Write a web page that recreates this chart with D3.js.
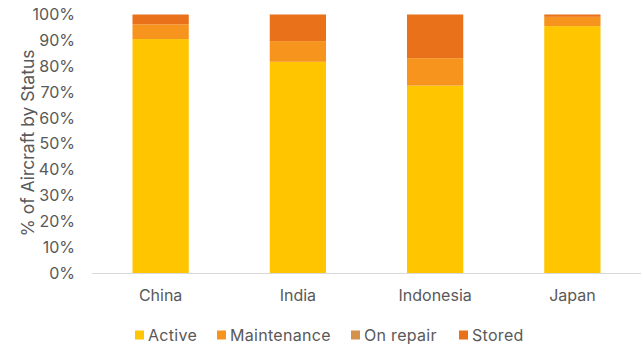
<!DOCTYPE html>
<html><head><meta charset="utf-8">
<script src="https://cdn.jsdelivr.net/npm/d3@7/dist/d3.min.js"></script>
<style>body{margin:0;background:#fff}svg{display:block}text{font-family:Inter,"Liberation Sans",Arial,sans-serif;}</style>
</head><body><svg id="c" width="643" height="347"></svg>
<script>
const categories = ["China","India","Indonesia","Japan"];
const seriesNames = ["Active","Maintenance","On repair","Stored"];
const active = [90.5, 81.7, 72.5, 95.5];
const maintenance = [5.7, 8.0, 10.6, 3.6];
const onRepair = [0, 0, 0, 0];
const stored = [3.8, 10.3, 16.9, 0.9];
const yTicks = [0,10,20,30,40,50,60,70,80,90,100];
const colors = ["#FFC600","#F7941D","#D4924A","#E8711A"];

const FONT = "Inter,'Liberation Sans',Arial,sans-serif";
const svg = d3.select("#c");
const m = {l:92, r:2, t:14.5, b:74};
const W = 643, H = 347;
const x = d3.scaleBand().domain(categories).range([m.l, W-m.r]).paddingInner(0.59).paddingOuter(0.295);
const y = d3.scaleLinear().domain([0,100]).range([H-m.b, m.t]);

const rows = categories.map((c,i)=>({cat:c, "Active":active[i], "Maintenance":maintenance[i], "On repair":onRepair[i], "Stored":stored[i]}));
const stack = d3.stack().keys(seriesNames)(rows);

svg.append("g").selectAll("g").data(stack).join("g").attr("fill",(d,i)=>colors[i])
  .selectAll("rect").data(d=>d).join("rect")
  .attr("x",d=>x(d.data.cat)).attr("width",x.bandwidth())
  .attr("y",d=>y(d[1])).attr("height",d=>Math.max(0,y(d[0])-y(d[1])));

svg.append("line").attr("x1",m.l).attr("x2",W-m.r).attr("y1",y(0)+0.5).attr("y2",y(0)+0.5).attr("stroke","#D9D9D9").attr("stroke-width",1.2);

const ya = d3.axisLeft(y).tickValues(yTicks).tickFormat(d=>d+"%").tickSize(0).tickPadding(0);
const gy = svg.append("g").attr("transform","translate(75,0)").call(ya);
gy.select(".domain").remove();
gy.selectAll("text").attr("fill","#595959").style("font-size","16px").style("font-family",FONT);

const xa = d3.axisBottom(x).tickSize(0).tickPadding(0);
const gx = svg.append("g").attr("transform",`translate(0,${y(0)+17})`).call(xa);
gx.select(".domain").remove();
gx.selectAll("text").attr("fill","#595959").style("font-size","16px").style("font-family",FONT);

svg.append("text").attr("transform",`translate(34,143) rotate(-90)`)
  .attr("text-anchor","middle").attr("fill","#595959").style("font-size","17.5px").style("font-family",FONT).text("% of Aircraft by Status");

const legTextX = [148, 230, 364, 472];
const lg = svg.append("g").selectAll("g").data(seriesNames).join("g").attr("transform",(d,i)=>`translate(${legTextX[i]},335)`);
lg.append("rect").attr("x",-13).attr("y",-4.5).attr("width",9).attr("height",9).attr("fill",(d,i)=>colors[i]);
lg.append("text").attr("x",0).attr("y",0).attr("dy","0.36em").attr("fill","#595959").style("font-size","16px").style("letter-spacing","0.3px").style("font-family",FONT).text(d=>d);
</script></body></html>
